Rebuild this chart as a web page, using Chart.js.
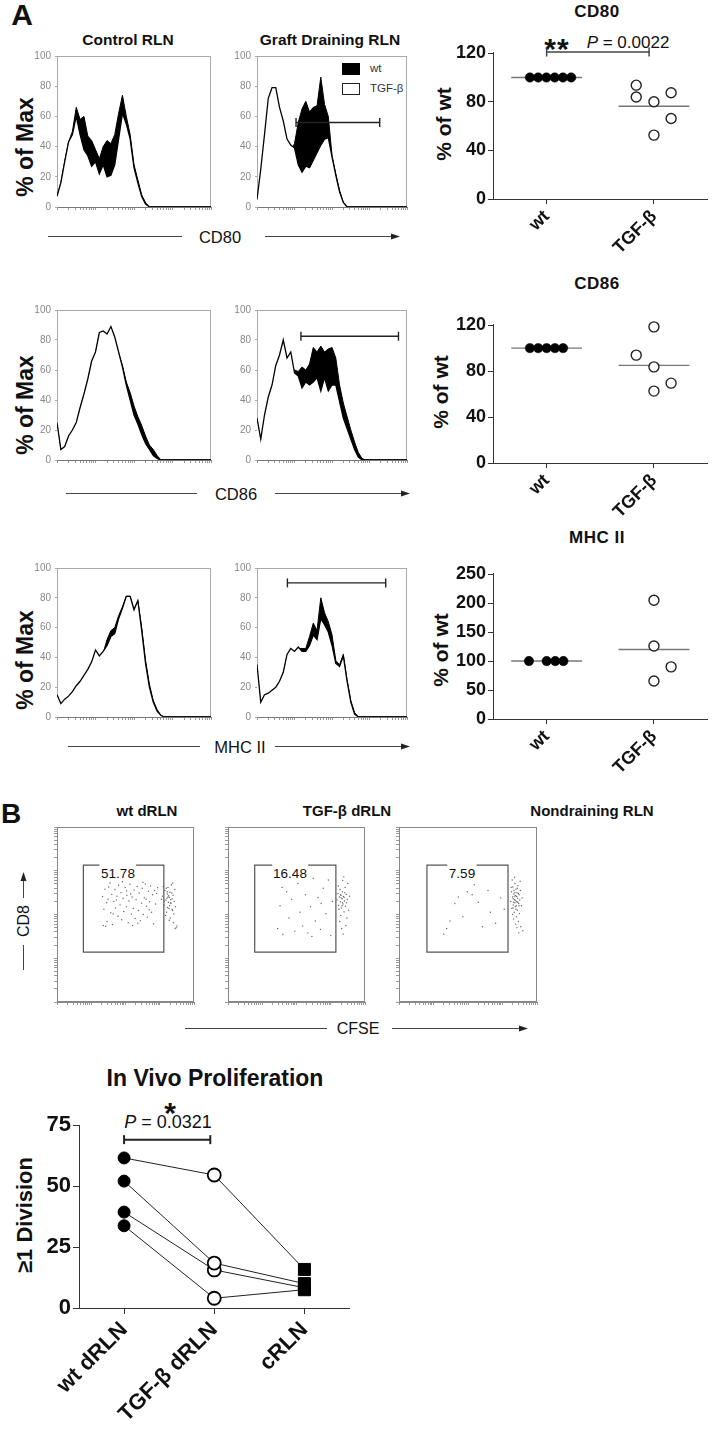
<!DOCTYPE html>
<html>
<head>
<meta charset="utf-8">
<title>CD80 / CD86 / MHC II and in vivo proliferation</title>
<script src="https://cdn.jsdelivr.net/npm/chart.js@4.4.1/dist/chart.umd.min.js"></script>
<style>
  body { margin: 0; background: #fff; }
  #page { position: relative; width: 714px; height: 1436px; overflow: hidden; background: #fff;
          font-family: Arial, "Liberation Sans", sans-serif; color: #111; }
  #page canvas, #page svg { position: absolute; }
  .t { position: absolute; white-space: nowrap; line-height: 1; transform: translate(-50%, -50%); }
  .v { transform: translate(-50%, -50%) rotate(-90deg); }
  .l { transform: translate(0, -50%); }
</style>
</head>
<body>
<div id="page">
  <svg width="714" height="1436" style="left:0;top:0">
    <g stroke="#444" stroke-width="1" fill="none">
      <line x1="48" y1="236.5" x2="182" y2="236.5"/>
      <line x1="265" y1="236.5" x2="393" y2="236.5"/>
      <line x1="66" y1="493.5" x2="197" y2="493.5"/>
      <line x1="275" y1="493.5" x2="403" y2="493.5"/>
      <line x1="68" y1="746.5" x2="200" y2="746.5"/>
      <line x1="275" y1="746.5" x2="403" y2="746.5"/>
      <line x1="185" y1="1028.5" x2="327" y2="1028.5"/>
      <line x1="392" y1="1028.5" x2="521" y2="1028.5"/>
      <line x1="23.5" y1="970" x2="23.5" y2="945"/>
      <line x1="23.5" y1="898" x2="23.5" y2="880"/>
    </g>
    <g fill="#222">
      <polygon points="400,236.5 391,233.5 391,239.5"/>
      <polygon points="410,493.5 401,490.5 401,496.5"/>
      <polygon points="410,746.5 401,743.5 401,749.5"/>
      <polygon points="528,1028.5 519,1025.5 519,1031.5"/>
      <polygon points="23.5,872 20.5,881 26.5,881"/>
    </g>
    <rect x="342" y="63" width="18" height="12" fill="#000"/>
    <rect x="342.5" y="83.5" width="17" height="11" fill="#fff" stroke="#222"/>
  </svg>

  <div class="t" style="left:22px;top:15px;font:bold 30px/1 Arial">A</div>
  <div class="t" style="left:128px;top:40px;font:bold 15.5px/1 Arial">Control RLN</div>
  <div class="t" style="left:330px;top:40px;font:bold 15.5px/1 Arial">Graft Draining RLN</div>
  <div class="t l" style="left:370px;top:69px;font:11.5px/1 Arial;color:#333">wt</div>
  <div class="t l" style="left:370px;top:89px;font:11.5px/1 Arial;color:#333">TGF-β</div>

  <div class="t v" style="left:25px;top:147px;font:bold 23px/1 Arial">% of Max</div>
  <div class="t v" style="left:25px;top:405px;font:bold 23px/1 Arial">% of Max</div>
  <div class="t v" style="left:25px;top:660px;font:bold 23px/1 Arial">% of Max</div>
  <div class="t" style="left:220px;top:237px;font:16.5px/1 Arial">CD80</div>
  <div class="t" style="left:236px;top:494px;font:16.5px/1 Arial">CD86</div>
  <div class="t" style="left:240px;top:747px;font:16.5px/1 Arial">MHC II</div>

  <div class="t" style="left:597px;top:11px;font:bold 17px/1 Arial;letter-spacing:0.5px">CD80</div>
  <div class="t" style="left:597px;top:283px;font:bold 17px/1 Arial;letter-spacing:0.5px">CD86</div>
  <div class="t" style="left:597px;top:537px;font:bold 17px/1 Arial;letter-spacing:0.5px">MHC II</div>
  <div class="t v" style="left:443px;top:124px;font:bold 21px/1 Arial">% of wt</div>
  <div class="t v" style="left:440px;top:392px;font:bold 21px/1 Arial">% of wt</div>
  <div class="t v" style="left:440px;top:650px;font:bold 21px/1 Arial">% of wt</div>
  <div class="t" style="left:557px;top:49px;font:bold 30px/1 Arial;letter-spacing:1px">**</div>
  <div class="t" style="left:628px;top:42px;font:17px/1 Arial"><i>P</i> = 0.0022</div>

  <div class="t" style="left:11px;top:814px;font:bold 28px/1 Arial">B</div>
  <div class="t" style="left:147px;top:810px;font:bold 15px/1 Arial">wt dRLN</div>
  <div class="t" style="left:347px;top:810px;font:bold 15px/1 Arial">TGF-β dRLN</div>
  <div class="t" style="left:592px;top:810px;font:bold 15px/1 Arial">Nondraining RLN</div>
  <div class="t" style="left:118px;top:874px;font:13.5px/1 Arial">51.78</div>
  <div class="t" style="left:290px;top:874px;font:13.5px/1 Arial">16.48</div>
  <div class="t" style="left:462px;top:874px;font:13.5px/1 Arial">7.59</div>
  <div class="t v" style="left:24px;top:921px;font:16px/1 Arial">CD8</div>
  <div class="t" style="left:358px;top:1029px;font:16px/1 Arial">CFSE</div>

  <div class="t" style="left:215px;top:1078px;font:bold 23px/1 Arial">In Vivo Proliferation</div>
  <div class="t" style="left:170px;top:1113px;font:bold 30px/1 Arial">*</div>
  <div class="t" style="left:168px;top:1122px;font:18px/1 Arial"><i>P</i> = 0.0321</div>
  <div class="t v" style="left:25px;top:1215px;font:bold 22px/1 Arial">≥1 Division</div>
</div>

<script>
// ---------- panel A: histograms, % of max per channel bin (41 bins over 4 log decades) ----------
var cd80CtrlWt   = [7,16,30,43,50,66,58,60,47,44,38,32,40,44,42,48,62,74,60,48,28,18,8,3,0];
var cd80CtrlTgf  = [7,16,30,43,48,60,48,38,34,27,30,22,28,20,21,28,45,62,55,45,26,16,7,2,0];
var cd80GraftWt  = [3,5,8,12,15,18,22,28,33,37,42,56,65,70,63,66,67,86,68,60,34,22,11,3,0];
var cd80GraftTgf = [5,25,48,72,79,79,66,57,45,41,39,28,23,27,26,31,36,41,45,46,33,21,10,3,0];
var cd80Gate = [[10.4, 56], [32.7, 56]];

var cd86CtrlWt   = [24,6,8,15,19,24,34,43,53,65,71,84,85,83,88,81,71,63,52,45,36,29,23,16,10,7,3,0];
var cd86CtrlTgf  = [25,7,9,16,20,25,35,44,54,66,72,85,86,84,89,82,72,62,50,40,30,24,17,11,7,3,1,0];
var cd86GraftWt  = [5,6,10,15,20,30,40,45,50,55,60,59,62,60,64,75,72,76,72,74,75,68,50,38,29,20,12,5,1,0];
var cd86GraftTgf = [28,14,30,42,50,63,70,80,68,72,58,56,48,52,50,52,55,46,55,46,50,50,39,28,21,14,7,2,0];
var cd86Gate = [[11.7, 82.5], [37.7, 82.5]];

var mhcCtrlWt    = [14,8,11,13,16,20,23,27,31,36,44,40,43,52,58,60,68,74,81,81,72,78,60,38,22,11,5,1,0];
var mhcCtrlTgf   = [15,9,12,14,17,21,24,28,32,37,45,41,44,48,54,56,66,73,81,81,72,78,58,36,20,10,4,1,0];
var mhcGraftWt   = [30,9,14,15,17,19,23,29,41,45,43,46,46,46,54,63,58,80,70,64,55,38,35,42,25,11,3,0];
var mhcGraftTgf  = [35,10,15,16,18,20,24,30,42,46,44,47,44,44,48,55,52,66,62,57,48,36,34,41,24,10,2,0];
var mhcGate = [[8.1, 90], [34.3, 90]];

// ---------- panel A: % of wt dot plots ----------
var dotGroups = ['wt', 'TGF-β'];
var cd80WtX = [0.844, 0.921, 0.998, 1.075, 1.152, 1.229];
var cd80WtY = [100, 100, 100, 100, 100, 100];
var cd80TgfX = [1.835, 1.835, 2.0, 2.16, 2.16, 2.0];
var cd80TgfY = [93.7, 84, 80, 87.4, 66.3, 52.6];
var cd80Medians = [100, 76.4];

var cd86WtX = [0.844, 0.921, 1.0, 1.077, 1.153];
var cd86WtY = [100, 100, 100, 100, 100];
var cd86TgfX = [2.0, 1.835, 2.0, 2.16, 2.0];
var cd86TgfY = [118.5, 93.9, 83.7, 69.5, 62.6];
var cd86Medians = [100, 85];

var mhcWtX = [0.835, 1.0, 1.08, 1.156];
var mhcWtY = [100, 100, 100, 100];
var mhcTgfX = [2.0, 2.0, 2.16, 2.0];
var mhcTgfY = [205, 126, 90, 65.5];
var mhcMedians = [100, 120];

// ---------- panel B: CFSE (x) vs CD8 (y) events, log decades ----------
var wtDrlnDots = [[1.33,2.41],[1.37,2.12],[1.40,2.58],[1.46,1.84],[1.49,2.35],[1.51,2.63],[1.57,2.04],[1.60,2.46],
  [1.62,1.77],[1.66,2.30],[1.69,2.57],[1.71,2.15],[1.75,2.42],[1.78,1.96],[1.80,2.67],[1.84,2.22],[1.87,2.50],
  [1.89,1.88],[1.93,2.37],[1.95,2.07],[1.99,2.62],[2.02,2.18],[2.04,2.44],[2.08,1.81],[2.10,2.31],[2.13,2.69],
  [2.17,2.01],[2.19,2.40],[2.23,2.14],[2.25,2.56],[2.28,1.91],[2.31,2.34],[2.34,2.64],[2.38,2.09],[2.40,2.49],
  [2.43,1.86],[2.47,2.26],[2.49,2.60],[2.52,2.00],[2.55,2.38],[2.58,2.70],[2.61,2.19],[2.64,1.94],[2.67,2.53],
  [2.70,2.29],[2.73,2.65],[2.76,2.05],[2.79,2.45],[2.82,1.79],[2.85,2.55],[2.88,2.24],[2.91,2.48],[1.42,1.73],
  [1.55,2.72],[1.91,2.75],[2.21,1.75],[2.51,2.74],[1.45,2.27],[2.03,2.54],[2.69,2.11],[2.94,2.61],[1.35,1.75],
  [1.64,2.01],[2.36,1.80],[1.73,2.33],[2.15,2.47],[2.60,2.35],
  [3.08,2.42],[3.12,2.21],[3.15,2.55],[3.18,2.33],[3.20,2.05],[3.22,2.47],[3.24,2.62],[3.25,2.28],[3.27,2.14],
  [3.28,2.39],[3.30,2.51],[3.31,1.92],[3.33,2.25],[3.34,2.68],[3.36,2.36],[3.37,2.09],[3.39,2.44],[3.40,1.81],
  [3.42,2.30],[3.44,2.57],[3.46,2.18],[3.48,1.70],[3.21,2.37],[3.26,2.43],[3.29,2.20],[3.32,2.34],[3.23,2.16],
  [3.35,2.49],[3.19,2.60],[3.41,2.01],[3.17,1.98],[3.38,2.72],[3.45,1.68],[3.50,1.74],[3.13,2.30],[3.28,1.87],
  [3.24,2.40],[3.31,2.27],[3.36,2.12],[3.10,2.64],[3.05,2.35],[3.22,2.52]];
var tgfDrlnDots = [[1.45,1.68],[1.52,2.20],[1.60,1.55],[1.71,2.52],[1.78,1.92],[1.86,2.35],[1.95,1.62],[2.04,2.71],
  [2.10,2.05],[2.18,1.74],[2.26,2.45],[2.33,1.58],[2.41,2.18],[2.49,2.83],[2.55,1.85],[2.63,2.39],[2.70,1.66],
  [2.78,2.60],[2.86,2.02],[2.93,2.79],[3.00,1.52],[3.05,2.30],[1.90,2.90],[2.45,1.50],[2.72,2.25],[1.58,2.62],
  [3.18,2.33],[3.21,2.48],[3.23,2.21],[3.25,2.40],[3.27,2.57],[3.28,2.29],[3.30,2.44],[3.31,2.15],[3.33,2.36],
  [3.34,2.52],[3.36,2.24],[3.37,2.41],[3.39,2.06],[3.40,2.31],[3.42,2.62],[3.43,2.19],[3.45,2.46],[3.47,1.92],
  [3.48,2.35],[3.50,2.71],[3.52,2.10],[3.26,1.84],[3.32,1.68],[3.35,2.78],[3.29,1.98],[3.44,1.75],[3.38,2.86],
  [3.24,2.12],[3.41,2.50],[3.46,2.27],[3.22,2.65],[3.36,1.55],[3.30,2.38],[3.34,2.27],[3.28,2.45],[3.39,2.39],
  [3.33,2.20],[3.55,2.42]];
var cRlnDots = [[1.30,1.55],[1.62,2.25],[1.48,1.85],[1.98,2.52],[1.85,1.95],[2.30,2.28],[2.42,1.72],[2.12,2.45],
  [2.65,2.05],[2.58,2.55],[2.80,1.80],[2.95,2.38],[3.05,2.12],[1.38,1.68],[2.18,2.68],[1.72,2.40],
  [3.24,2.30],[3.26,2.52],[3.27,2.14],[3.29,2.40],[3.30,2.63],[3.31,2.22],[3.33,2.47],[3.34,2.05],[3.35,2.34],
  [3.36,2.71],[3.37,2.18],[3.38,2.43],[3.39,2.58],[3.40,1.95],[3.41,2.29],[3.42,2.50],[3.43,2.10],[3.44,2.37],
  [3.45,2.66],[3.46,1.84],[3.47,2.25],[3.48,2.45],[3.49,2.02],[3.50,2.33],[3.52,2.55],[3.53,1.72],[3.55,2.20],
  [3.57,2.38],[3.59,1.63],[3.28,2.79],[3.32,1.90],[3.35,2.85],[3.38,1.78],[3.31,2.36],[3.36,2.27],[3.41,2.41],
  [3.33,2.55],[3.39,2.12],[3.44,2.28],[3.29,2.00],[3.43,2.60],[3.47,1.58],[3.37,2.32],[3.34,2.42],[3.40,2.20],
  [3.46,2.48],[3.30,2.15],[3.51,2.76],[3.25,2.62],[3.42,1.70],[3.36,2.50],[3.32,2.28],[3.48,2.20]];
// gate: [left, right, bottom, top] and the gap in the top edge where the % label sits
var wtGate = [0.77, 3.12, 1.14, 3.13],  wtGateGap = [1.24, 2.31];
var tgfGate = [0.78, 3.15, 1.14, 3.13], tgfGateGap = [1.29, 2.34];
var cGate = [0.81, 3.16, 1.14, 3.13],   cGateGap = [1.40, 2.25];

// ---------- panel B: in vivo proliferation, paired per mouse ----------
var prolifGroups = ['wt dRLN', 'TGF-β dRLN', 'cRLN'];
var prolifMice = [
  [61.5, 54.5, 15.8],
  [52, 18.4, 10],
  [39.3, 15.6, 8.3],
  [33.7, 4, 7.5]
];
var prolifBracket = [[0, 69], [0.956, 69]];

var page = document.getElementById('page');

// put a canvas so that the plot area lands on [left, top, right, bottom] of the page
function canvasFor(area, yw, xh, pt, pr) {
  var c = document.createElement('canvas');
  var w = area[2] - area[0] + yw + pr;
  var h = area[3] - area[1] + pt + xh;
  c.width = w; c.height = h;
  c.style.left = (area[0] - yw) + 'px';
  c.style.top = (area[1] - pt) + 'px';
  c.style.width = w + 'px';
  c.style.height = h + 'px';
  page.appendChild(c);
  return c;
}

function logTicks(decades, unit) {
  var t = [];
  for (var d = 0; d < decades; d++) {
    for (var k = 1; k < 10; k++) t.push({value: (d + Math.log10(k)) * unit});
  }
  t.push({value: decades * unit});
  return t;
}

var framePlugin = {
  id: 'frame',
  beforeDatasetsDraw: function(chart, args, opts) {
    if (!opts.color) return;
    var a = chart.chartArea, ctx = chart.ctx;
    ctx.save();
    ctx.strokeStyle = opts.color;
    ctx.lineWidth = 1;
    ctx.strokeRect(Math.round(a.left) + 0.5, Math.round(a.top) + 0.5,
      Math.round(a.right - a.left) - 1, Math.round(a.bottom - a.top) - 1);
    ctx.restore();
  }
};

var baseOpts = function(pt, pr) {
  return {
    responsive: false, animation: false, events: [],
    layout: {padding: {top: pt, right: pr, left: 0, bottom: 0}},
    plugins: {legend: {display: false}, tooltip: {enabled: false}}
  };
};

function toBins(a) {
  var out = a.slice();
  while (out.length < 41) out.push(0);
  return out.map(function(v, i) { return {x: i, y: v}; });
}

function histChart(area, wt, tgf, gate) {
  var yw = 34, xh = 6, pt = 12, pr = 2;
  var c = canvasFor(area, yw, xh, pt, pr);
  var ds = [
    {data: toBins(wt), borderColor: '#000', borderWidth: 1, backgroundColor: '#000',
     fill: 'origin', pointRadius: 0, tension: 0, order: 2},
    {data: toBins(tgf), borderColor: '#000', borderWidth: 1.3, backgroundColor: '#fff',
     fill: 'origin', pointRadius: 0, tension: 0, order: 1}
  ];
  if (gate) {
    ds.push({data: gate.map(function(p) { return {x: p[0], y: p[1]}; }),
      borderColor: '#222', borderWidth: 1.4, fill: false, pointStyle: 'line', rotation: 90,
      pointRadius: 4.5, pointBorderColor: '#222', pointBorderWidth: 1.4, order: 0});
  }
  var o = baseOpts(pt, pr);
  o.plugins.frame = {color: '#aaa'};
  o.scales = {
    x: {type: 'linear', min: 0, max: 40,
        afterBuildTicks: function(s) { s.ticks = logTicks(4, 10); },
        afterFit: function(s) { s.height = xh; },
        ticks: {display: false},
        grid: {drawOnChartArea: false, tickLength: 3, color: '#999'},
        border: {color: '#777'}},
    y: {min: 0, max: 100,
        afterBuildTicks: function(s) { s.ticks = [0, 20, 40, 60, 80, 100].map(function(v) { return {value: v}; }); },
        afterFit: function(s) { s.width = yw; },
        ticks: {color: '#888', font: {family: 'Arial', size: 10}, padding: 4},
        grid: {drawOnChartArea: false, tickLength: 2, color: '#aaa'},
        border: {color: '#999'}}
  };
  new Chart(c, {type: 'line', data: {datasets: ds}, options: o, plugins: [framePlugin]});
}

function dotChart(area, yMax, yTicks, wtX, wtY, tgfX, tgfY, medians, bracket) {
  var yw = 80, xh = 80, pt = 18, pr = 1;
  var c = canvasFor(area, yw, xh, pt, pr);
  var pts = function(xs, ys) { return xs.map(function(x, i) { return {x: x, y: ys[i]}; }); };
  var ds = [
    {data: pts(wtX, wtY), pointRadius: 4.7, pointBackgroundColor: '#000', pointBorderColor: '#000',
     pointBorderWidth: 0.5, clip: false},
    {data: pts(tgfX, tgfY), pointRadius: 5, pointBackgroundColor: '#fff', pointBorderColor: '#222',
     pointBorderWidth: 1.4, clip: false}
  ];
  medians.forEach(function(m, g) {
    ds.push({data: [{x: g + 1 - 0.33, y: m}, {x: g + 1 + 0.33, y: m}], showLine: true,
      borderColor: '#777', borderWidth: 1.4, pointRadius: 0, order: 5});
  });
  if (bracket) {
    ds.push({data: bracket.map(function(p) { return {x: p[0], y: p[1]}; }), showLine: true,
      borderColor: '#444', borderWidth: 1.5, pointStyle: 'line', rotation: 90, pointRadius: 4.5,
      pointBorderColor: '#444', pointBorderWidth: 1.5, clip: false});
  }
  var o = baseOpts(pt, pr);
  o.scales = {
    x: {type: 'linear', min: 0.5, max: 2.5,
        afterBuildTicks: function(s) { s.ticks = [{value: 1}, {value: 2}]; },
        afterFit: function(s) { s.height = xh; },
        ticks: {autoSkip: false, minRotation: 45, maxRotation: 45, padding: 2, color: '#111',
                font: {family: 'Arial', size: 18, weight: 'bold'},
                callback: function(v) { return dotGroups[v - 1]; }},
        grid: {drawOnChartArea: false, tickLength: 5, color: '#333'},
        border: {color: '#333'}},
    y: {min: 0, max: yMax,
        afterBuildTicks: function(s) { s.ticks = yTicks.map(function(v) { return {value: v}; }); },
        afterFit: function(s) { s.width = yw; },
        ticks: {padding: 2, color: '#111', font: {family: 'Arial', size: 18, weight: 'bold'}},
        grid: {drawOnChartArea: false, tickLength: 5, color: '#333'},
        border: {color: '#333'}}
  };
  new Chart(c, {type: 'scatter', data: {datasets: ds}, options: o});
}

function flowChart(area, dots, gate, gap) {
  var yw = 6, xh = 6, pt = 2, pr = 2;
  var c = canvasFor(area, yw, xh, pt, pr);
  var L = gate[0], R = gate[1], B = gate[2], T = gate[3];
  var gatePath = [[gap[1], T], [R, T], [R, B], [L, B], [L, T], [gap[0], T]];
  var ds = [
    {data: dots.map(function(p) { return {x: p[0], y: p[1]}; }), pointRadius: 0.7,
     pointBackgroundColor: '#666', pointBorderWidth: 0},
    {data: gatePath.map(function(p) { return {x: p[0], y: p[1]}; }), showLine: true,
     borderColor: '#555', borderWidth: 1.2, pointRadius: 0, tension: 0}
  ];
  var axis = function(isX) {
    var s = {type: 'linear', min: 0, max: 4,
      afterBuildTicks: function(sc) { sc.ticks = logTicks(4, 1); },
      ticks: {display: false},
      grid: {drawOnChartArea: false, tickLength: 3, color: '#999'},
      border: {color: '#888'}};
    if (isX) s.afterFit = function(sc) { sc.height = xh; };
    else s.afterFit = function(sc) { sc.width = yw; };
    return s;
  };
  var o = baseOpts(pt, pr);
  o.plugins.frame = {color: '#888'};
  o.scales = {x: axis(true), y: axis(false)};
  new Chart(c, {type: 'scatter', data: {datasets: ds}, options: o, plugins: [framePlugin]});
}

function prolifChart(area) {
  var yw = 45, xh = 126, pt = 20, pr = 6;
  var c = canvasFor(area, yw, xh, pt, pr);
  var ds = prolifMice.map(function(m) {
    return {
      data: m.map(function(v, i) { return {x: i, y: v}; }),
      borderColor: '#222', borderWidth: 1, tension: 0, clip: false,
      pointStyle: ['circle', 'circle', 'rect'],
      pointRadius: [6, 6.5, 8.5],
      pointBackgroundColor: ['#000', '#fff', '#000'],
      pointBorderColor: '#000',
      pointBorderWidth: [1, 1.8, 1]
    };
  });
  ds.push({data: prolifBracket.map(function(p) { return {x: p[0], y: p[1]}; }),
    borderColor: '#222', borderWidth: 2, pointStyle: 'line', rotation: 90, pointRadius: 4.5,
    pointBorderColor: '#222', pointBorderWidth: 2, clip: false});
  var o = baseOpts(pt, pr);
  o.scales = {
    x: {type: 'linear', min: -0.5, max: 2.5,
        afterBuildTicks: function(s) { s.ticks = [0, 1, 2].map(function(v) { return {value: v}; }); },
        afterFit: function(s) { s.height = xh; },
        ticks: {autoSkip: false, minRotation: 45, maxRotation: 45, padding: 3, color: '#111',
                font: {family: 'Arial', size: 22, weight: 'bold'},
                callback: function(v) { return prolifGroups[v]; }},
        grid: {drawOnChartArea: false, tickLength: 6, color: '#333'},
        border: {color: '#333'}},
    y: {min: 0, max: 75,
        afterBuildTicks: function(s) { s.ticks = [0, 25, 50, 75].map(function(v) { return {value: v}; }); },
        afterFit: function(s) { s.width = yw; },
        ticks: {padding: 2, color: '#111', font: {family: 'Arial', size: 22, weight: 'bold'}},
        grid: {drawOnChartArea: false, tickLength: 6, color: '#333'},
        border: {color: '#333'}}
  };
  new Chart(c, {type: 'line', data: {datasets: ds}, options: o});
}

histChart([57, 56, 211, 211], cd80CtrlWt, cd80CtrlTgf);
histChart([257, 56, 411, 211], cd80GraftWt, cd80GraftTgf, cd80Gate);
histChart([57, 310, 211, 464], cd86CtrlWt, cd86CtrlTgf);
histChart([257, 310, 411, 464], cd86GraftWt, cd86GraftTgf, cd86Gate);
histChart([57, 568, 211, 721], mhcCtrlWt, mhcCtrlTgf);
histChart([257, 568, 411, 721], mhcGraftWt, mhcGraftTgf, mhcGate);

dotChart([493, 52, 713, 199], 121, [0, 40, 80, 120], cd80WtX, cd80WtY, cd80TgfX, cd80TgfY, cd80Medians,
  [[1.0, 121], [1.955, 121]]);
dotChart([493, 324, 713, 463], 121, [0, 40, 80, 120], cd86WtX, cd86WtY, cd86TgfX, cd86TgfY, cd86Medians);
dotChart([493, 573, 713, 719], 252, [0, 50, 100, 150, 200, 250], mhcWtX, mhcWtY, mhcTgfX, mhcTgfY, mhcMedians);

flowChart([57, 825, 196, 1002], wtDrlnDots, wtGate, wtGateGap);
flowChart([228, 825, 367, 1002], tgfDrlnDots, tgfGate, tgfGateGap);
flowChart([399, 825, 539, 1002], cRlnDots, cGate, cGateGap);

prolifChart([79, 1125, 353, 1308]);
</script>
</body>
</html>
